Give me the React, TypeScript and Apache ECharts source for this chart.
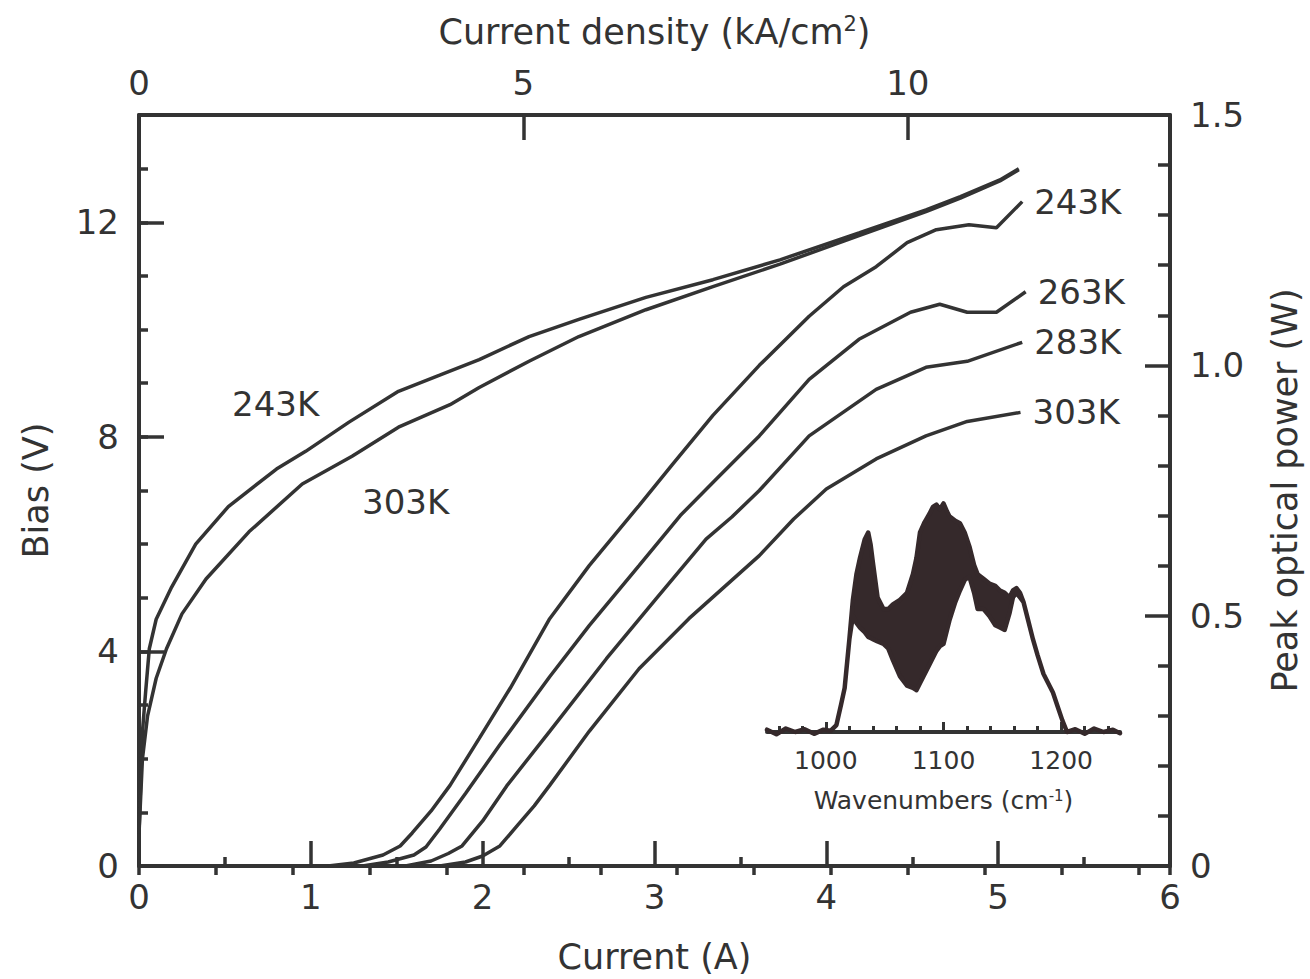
import React, { useEffect, useRef } from 'react';
import * as echarts from 'echarts';

const FONT = "'DejaVu Sans', sans-serif";
const INK = '#333333';
const FILL = '#35292b';

// Bias (V) vs current (A)
const iv243K: number[][] = [
  [0, 0.6], [0.02, 2.5], [0.04, 3.3], [0.06, 4.05], [0.1, 4.6], [0.19, 5.2], [0.33, 6.0],
  [0.52, 6.7], [0.8, 7.4], [0.97, 7.73], [1.22, 8.27], [1.51, 8.85], [1.75, 9.15], [1.98, 9.44],
  [2.27, 9.87], [2.56, 10.19], [2.95, 10.6], [3.34, 10.93], [3.73, 11.3], [4.19, 11.8],
  [4.58, 12.23], [4.78, 12.48], [5.01, 12.79], [5.12, 13.0],
];
const iv303K: number[][] = [
  [0, 0.6], [0.02, 2.0], [0.05, 2.8], [0.1, 3.5], [0.16, 4.05], [0.25, 4.7], [0.39, 5.35],
  [0.64, 6.23], [0.95, 7.12], [1.24, 7.64], [1.51, 8.18], [1.81, 8.6], [1.98, 8.92],
  [2.27, 9.41], [2.56, 9.87], [2.95, 10.37], [3.34, 10.8], [3.73, 11.22], [4.19, 11.75],
  [4.58, 12.2], [4.78, 12.45], [5.01, 12.77], [5.12, 12.98],
];

// Peak optical power (W) vs current (A)
const power243K: number[][] = [
  [1.1, 0], [1.25, 0.006], [1.42, 0.022], [1.52, 0.04], [1.59, 0.066], [1.7, 0.11], [1.81, 0.161],
  [1.98, 0.255], [2.16, 0.355], [2.39, 0.494], [2.62, 0.6], [2.91, 0.72], [3.1, 0.8], [3.34, 0.9],
  [3.61, 1.0], [3.9, 1.098], [4.1, 1.157], [4.29, 1.197], [4.47, 1.245], [4.64, 1.271],
  [4.83, 1.281], [4.99, 1.275], [5.14, 1.327],
];
const power263K: number[][] = [
  [1.3, 0], [1.45, 0.008], [1.6, 0.022], [1.67, 0.038], [1.75, 0.074], [1.9, 0.145], [2.1, 0.242],
  [2.39, 0.378], [2.62, 0.48], [2.91, 0.6], [3.15, 0.7], [3.36, 0.773],
  [3.61, 0.859], [3.9, 0.972], [4.19, 1.052], [4.49, 1.106], [4.66, 1.122], [4.82, 1.106],
  [4.99, 1.106], [5.16, 1.147],
];
const power283K: number[][] = [
  [1.55, 0], [1.7, 0.01], [1.8, 0.025], [1.88, 0.04], [2.0, 0.09], [2.14, 0.16], [2.39, 0.269],
  [2.72, 0.414], [3.01, 0.534], [3.3, 0.653], [3.45, 0.697], [3.61, 0.75],
  [3.9, 0.859], [4.29, 0.952], [4.58, 0.996], [4.82, 1.008], [5.14, 1.046],
];
const power303K: number[][] = [
  [1.75, 0], [1.9, 0.008], [2.0, 0.02], [2.1, 0.04], [2.2, 0.08], [2.3, 0.12], [2.39, 0.161],
  [2.62, 0.269], [2.91, 0.394], [3.2, 0.494], [3.61, 0.62], [3.81, 0.693], [4.0, 0.753],
  [4.29, 0.813], [4.58, 0.859], [4.82, 0.888], [5.13, 0.906],
];
const powerNames = ['243K', '263K', '283K', '303K'];
const powerData = [power243K, power263K, power283K, power303K];

// Inset spectrum (arb. units) vs wavenumber (cm-1): upper and lower envelopes
const specWavenumber = [
  950, 958, 966, 974, 982, 990, 998, 1004, 1009, 1013, 1016, 1020,
  1023, 1026, 1029, 1033, 1036, 1038, 1040, 1044, 1049, 1053,
  1057, 1063, 1069, 1074, 1077, 1080, 1084, 1088, 1091, 1094,
  1097, 1100, 1103, 1105, 1110, 1114, 1118, 1122, 1126, 1129,
  1134, 1139, 1144, 1148, 1152, 1156, 1159, 1162, 1165, 1168,
  1172, 1176, 1180, 1185, 1189, 1193, 1197, 1201, 1205, 1212,
  1220, 1228, 1236, 1244, 1250,
];
const specUpper = [
  0.01, -0.01, 0.015, 0.0, 0.012, -0.008, 0.01, 0.005, 0.03, 0.12, 0.19, 0.4,
  0.57, 0.68, 0.75, 0.83, 0.86, 0.81, 0.73, 0.58, 0.53, 0.53,
  0.55, 0.57, 0.6, 0.68, 0.75, 0.86, 0.905, 0.94, 0.97, 0.98,
  0.96, 0.985, 0.95, 0.93, 0.91, 0.9, 0.86, 0.8, 0.72, 0.68,
  0.66, 0.64, 0.63, 0.61, 0.6, 0.58, 0.61, 0.62, 0.6, 0.56,
  0.48, 0.4, 0.33, 0.25, 0.21, 0.17, 0.11, 0.05, 0.0, 0.012,
  -0.008, 0.015, 0.0, 0.01, -0.005,
];
const specLower = [
  0.01, -0.01, 0.015, 0.0, 0.012, -0.008, 0.01, 0.005, 0.03, 0.12, 0.19, 0.4,
  0.5, 0.47, 0.45, 0.43, 0.41, 0.405, 0.4, 0.39, 0.38, 0.36,
  0.31, 0.24, 0.2, 0.19, 0.18, 0.21, 0.25, 0.29, 0.32, 0.35,
  0.37, 0.38, 0.44, 0.48, 0.56, 0.61, 0.655, 0.67, 0.6, 0.53,
  0.53, 0.5, 0.46, 0.45, 0.44, 0.51, 0.58, 0.6, 0.58, 0.56,
  0.48, 0.4, 0.33, 0.25, 0.21, 0.17, 0.11, 0.05, 0.0, 0.012,
  -0.008, 0.015, 0.0, 0.01, -0.005,
];
const insetMinorTicks = [960, 980, 1020, 1040, 1060, 1080, 1120, 1140, 1160, 1180, 1220, 1240];
const insetMajorTicks = [1000, 1100, 1200];

const CURRENT_MAX = 6;
const DENSITY_MAX = 13.41; // kA/cm2 at 6 A

const txt = (size: number) => ({ fontSize: size, color: INK, fontFamily: FONT });
const lineAx = (w = 4) => ({ show: true, onZero: false, lineStyle: { color: INK, width: w } });
const tick = (len: number, w = 3.5) => ({ show: true, inside: true, length: len, lineStyle: { color: INK, width: w } });

export default function App() {
  const ref = useRef<HTMLDivElement>(null);
  useEffect(() => {
    const chart = echarts.init(ref.current!, null, { renderer: 'svg' });
    const lineSeries = (data: number[][], name: string, yIdx: number, extra: any = {}) => ({
      type: 'line', name, data, xAxisIndex: 0, yAxisIndex: yIdx,
      symbol: 'none', showSymbol: false, smooth: false,
      lineStyle: { color: INK, width: 3.5 }, ...extra,
    });
    const option: any = {
      animation: false,
      backgroundColor: '#ffffff',
      grid: [
        { left: 139, top: 115, width: 1031, height: 752 },
        { left: 767, top: 500, width: 353, height: 232 },
      ],
      xAxis: [
        {
          gridIndex: 0, type: 'value', position: 'bottom', min: 0, max: CURRENT_MAX, interval: 1,
          name: 'Current (A)', nameLocation: 'middle', nameGap: 73, nameTextStyle: txt(35),
          axisLine: lineAx(), axisTick: tick(25),
          minorTick: { show: true, splitNumber: 2, length: 9, lineStyle: { color: INK, width: 3.5 } },
          axisLabel: { ...txt(34), margin: 14 }, splitLine: { show: false }, minorSplitLine: { show: false },
        },
        {
          gridIndex: 0, type: 'value', position: 'top', min: 0, max: DENSITY_MAX, interval: 5,
          name: 'Current density (kA/cm{sup|2})', nameLocation: 'middle', nameGap: 65,
          nameTextStyle: { ...txt(35), rich: { sup: { ...txt(21), padding: [0, 0, 16, 0] } } },
          axisLine: lineAx(), axisTick: tick(25),
          axisLabel: { ...txt(34), margin: 15, formatter: (v: number) => (v % 5 === 0 ? String(v) : '') },
          splitLine: { show: false },
        },
        {
          gridIndex: 0, type: 'value', position: 'top', min: 0, max: DENSITY_MAX, interval: 1,
          axisLine: { show: false }, axisTick: tick(9), axisLabel: { show: false }, splitLine: { show: false },
        },
        {
          gridIndex: 1, type: 'value', position: 'bottom', min: 950, max: 1250,
          name: 'Wavenumbers (cm{sup|-1})', nameLocation: 'middle', nameGap: 56,
          nameTextStyle: { ...txt(25), rich: { sup: { ...txt(15), padding: [0, 0, 10, 0] } } },
          axisLine: lineAx(4),
          axisTick: { ...tick(6, 3), customValues: insetMinorTicks },
          axisLabel: { ...txt(25), margin: 16, customValues: insetMajorTicks, formatter: (v: number) => String(v) },
          splitLine: { show: false },
        },
        {
          gridIndex: 1, type: 'value', position: 'bottom', min: 950, max: 1250,
          axisLine: { show: false },
          axisTick: { ...tick(10, 3), customValues: insetMajorTicks },
          axisLabel: { show: false }, splitLine: { show: false },
        },
      ],
      yAxis: [
        {
          gridIndex: 0, type: 'value', position: 'left', min: 0, max: 14, interval: 4,
          name: 'Bias (V)', nameLocation: 'middle', nameGap: 86, nameRotate: 90, nameTextStyle: txt(35),
          axisLine: lineAx(), axisTick: tick(25),
          axisLabel: { ...txt(34), margin: 20, formatter: (v: number) => (v % 4 === 0 ? String(v) : '') },
          splitLine: { show: false },
        },
        {
          gridIndex: 0, type: 'value', position: 'left', min: 0, max: 14, interval: 1,
          axisLine: { show: false }, axisTick: tick(9), axisLabel: { show: false }, splitLine: { show: false },
        },
        {
          gridIndex: 0, type: 'value', position: 'right', min: 0, max: 1.5, interval: 0.5,
          name: 'Peak optical power (W)', nameLocation: 'middle', nameGap: 97, nameRotate: 90,
          nameTextStyle: txt(35),
          axisLine: lineAx(), axisTick: tick(25),
          minorTick: { show: true, splitNumber: 5, length: 12, lineStyle: { color: INK, width: 3.5 } },
          axisLabel: { ...txt(34), margin: 20, formatter: (v: number) => (v === 0 ? '0' : v.toFixed(1)) },
          splitLine: { show: false }, minorSplitLine: { show: false },
        },
        { gridIndex: 1, type: 'value', min: 0, max: 1, show: false },
      ],
      series: [
        lineSeries(iv243K, 'IV 243K', 0),
        lineSeries(iv303K, 'IV 303K', 0),
        ...powerData.map((d, i) =>
          lineSeries(d, powerNames[i], 2, {
            endLabel: { show: true, formatter: (p: any) => p.seriesName, distance: 12, ...txt(34) },
          })
        ),
        {
          type: 'custom', name: 'spectrum', xAxisIndex: 3, yAxisIndex: 3, clip: false,
          data: specWavenumber.map((w, i) => [w, specUpper[i], specLower[i]]),
          encode: { x: 0, y: [1, 2] },
          renderItem: (params: any, api: any) => {
            if (params.dataIndex !== 0) return { type: 'group', children: [] };
            const pts: number[][] = [];
            for (let i = 0; i < specWavenumber.length; i++) pts.push(api.coord([specWavenumber[i], specUpper[i]]));
            for (let i = specWavenumber.length - 1; i >= 0; i--) pts.push(api.coord([specWavenumber[i], specLower[i]]));
            return {
              type: 'polygon',
              shape: { points: pts },
              style: { fill: FILL, stroke: FILL, lineWidth: 4.5, lineJoin: 'round' },
            };
          },
        },
      ],
      graphic: [
        { type: 'text', x: 232, y: 404, style: { text: '243K', fontSize: 34, fontFamily: FONT, fill: INK, verticalAlign: 'middle' } },
        { type: 'text', x: 362, y: 502, style: { text: '303K', fontSize: 34, fontFamily: FONT, fill: INK, verticalAlign: 'middle' } },
      ],
    };
    chart.setOption(option);
    return () => chart.dispose();
  }, []);
  return <div ref={ref} style={{ position: 'fixed', left: 0, top: 0, width: 1310, height: 979 }} />;
}
